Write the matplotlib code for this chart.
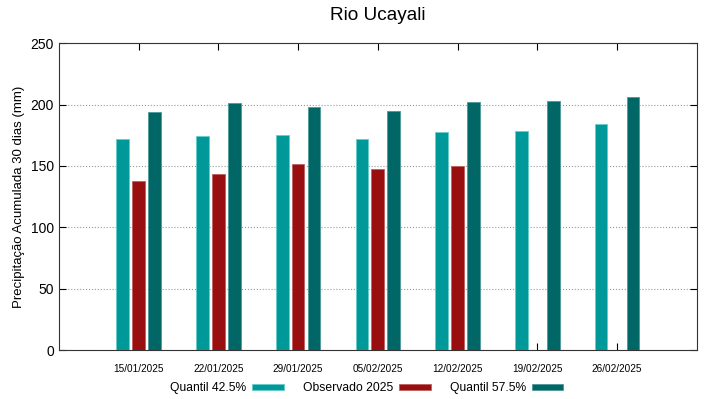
import matplotlib
matplotlib.use("Agg")
import matplotlib.pyplot as plt
import numpy as np

plt.rcParams['font.family'] = ['Liberation Sans', 'DejaVu Sans']

datas = ['15/01/2025', '22/01/2025', '29/01/2025', '05/02/2025',
         '12/02/2025', '19/02/2025', '26/02/2025']
q425 = [171.6, 174.4, 174.9, 172.2, 177.3, 178.7, 183.8]
obs2025 = [138.0, 143.2, 151.6, 147.5, 149.7, np.nan, np.nan]
q575 = [193.9, 200.9, 197.7, 195.0, 202.3, 202.8, 206.1]

cor_q425 = '#009999'
cor_obs = '#990f0f'
cor_q575 = '#006666'

fig = plt.figure(figsize=(7.19, 3.99), dpi=100)
ax = fig.add_axes([0.082, 0.1228, 0.887, 0.769])

x = np.arange(1, len(datas) + 1)
w = 0.16
ax.bar(x - 0.2, q425, w, color=cor_q425, edgecolor='#66cccc', linewidth=0.6,
       label='Quantil 42.5%', zorder=3)
ax.bar(x, obs2025, w, color=cor_obs, edgecolor='#c06060', linewidth=0.6,
       label='Observado 2025', zorder=3)
ax.bar(x + 0.2, q575, w, color=cor_q575, edgecolor='#4d9999', linewidth=0.6,
       label='Quantil 57.5%', zorder=3)

ax.set_xlim(0, 8)
ax.set_ylim(0, 250)
ax.set_xticks(x)
ax.set_xticklabels(datas, fontsize=7.2)
ax.set_yticks(np.arange(0, 251, 50))
ax.tick_params(axis='y', labelsize=10, direction='in', right=True, length=5)
ax.tick_params(axis='x', direction='in', top=True, length=5, pad=10)
ax.yaxis.grid(True, linestyle=':', color='#999999', linewidth=0.8, zorder=0)
for s in ax.spines.values():
    s.set_color('#333333')

ax.set_ylabel('Precipitação Acumulada 30 dias (mm)', fontsize=9.5)
fig.text(0.526, 0.96, 'Rio Ucayali', fontsize=13.7, ha='center', va='center')

fig.legend(loc='center', bbox_to_anchor=(0.51, 0.027), ncol=3, frameon=False,
           markerfirst=False, fontsize=8.7, handlelength=2.6, handleheight=0.4,
           columnspacing=1.6, handletextpad=0.5)

fig.savefig('out.png', dpi=100)
